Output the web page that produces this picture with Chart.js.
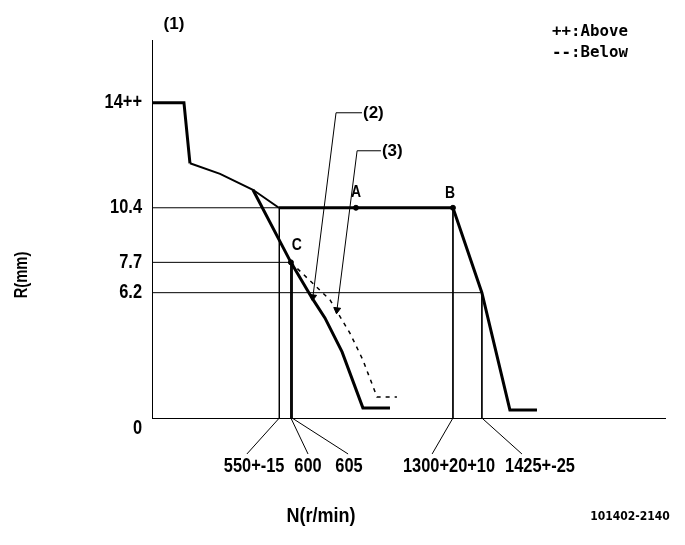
<!DOCTYPE html>
<html>
<head>
<meta charset="utf-8">
<script src="https://cdn.jsdelivr.net/npm/chart.js@4/dist/chart.umd.min.js"></script>
<style>
html, body { margin: 0; padding: 0; background: #fff; }
#wrap { width: 685px; height: 545px; }
</style>
</head>
<body>
<div id="wrap"><canvas id="myChart"></canvas></div>
<script>
// N (r/min), R (mm) pairs
const fullLoad = [[0, 15.6], [138, 15.6], [164, 12.6]];
const torqueCurve = [[164, 12.6], [294, 12.08], [436, 11.29], [548, 10.4]];
const governorLine = [[548, 10.4], [1300, 10.4], [1425, 6.2], [1546, 0.4], [1663, 0.4]];
const idleLine2 = [[436, 11.29], [600, 7.7], [691, 5.94], [747, 4.95], [821, 3.27], [911, 0.5], [1028, 0.5]];
const idleLine3 = [[600, 7.7], [769, 5.84], [855, 4.2], [911, 2.87], [972, 1.04], [1058, 1.04]];

// reference lines
const rLevels = [10.4, 7.7, 6.2];
const rLevelEnds = [548, 600, 1425];
const nMarks = [550, 600, 605, 1300, 1425];
const nMarkTops = [10.4, 7.7, 7.7, 10.4, 6.2];
const nLabels = ['550+-15', '600', '605', '1300+20+10', '1425+-25'];
const nLeaderEnds = [410, 674, 847, 1210, 1598];
const nLabelAt = [441, 674, 851, 1283, 1676];
const leaderDepth = -1.78;

// y ticks
const rTicks = [0, 6.2, 7.7, 10.4, 15.6];
const rTickLabels = ['0', '6.2', '7.7', '10.4', '14++'];

// marked points
const pointNames = ['A', 'B', 'C'];
const pointN = [881, 1300, 600];
const pointR = [10.4, 10.4, 7.7];

// callouts (2) and (3)
const note2 = [[907, 15.1], [795, 15.1], [695, 5.99]];
const note3 = [[989, 13.22], [886, 13.22], [799, 5.35]];

const xy = arr => arr.map(p => ({ x: p[0], y: p[1] }));

function line(data, width, extra) {
    return Object.assign({
        data: xy(data),
        showLine: true,
        borderColor: '#000',
        backgroundColor: '#000',
        borderWidth: width,
        pointRadius: 0,
        tension: 0,
        clip: false
    }, extra || {});
}

const datasets = [];
rLevels.forEach((r, i) => datasets.push(line([[0, r], [rLevelEnds[i], r]], 1)));
nMarks.forEach((n, i) => datasets.push(line([[n, nMarkTops[i]], [n, 0], [nLeaderEnds[i], leaderDepth]], 1)));
datasets.push(line(fullLoad, 3));
datasets.push(line(torqueCurve, 2));
datasets.push(line(governorLine, 3));
datasets.push(line(idleLine2, 3));
datasets.push(line(idleLine3, 1.5, { borderDash: [4, 5] }));
[note2, note3].forEach(n => datasets.push(line(n, 1, {
    pointRadius: [0, 0, 4],
    pointStyle: 'triangle',
    rotation: 187
})));
datasets.push({
    data: pointN.map((n, i) => ({ x: n, y: pointR[i] })),
    pointRadius: 2.5,
    pointBackgroundColor: '#000',
    pointBorderColor: '#000',
    showLine: false,
    clip: false
});

// squeezed text, the drawing uses a narrow plotter font
function narrow(ctx, text, x, y, align, sx) {
    ctx.save();
    ctx.translate(x, y);
    ctx.scale(sx || 0.82, 1);
    ctx.textAlign = align;
    ctx.fillText(text, 0, 0);
    ctx.restore();
}

const textPlugin = {
    id: 'texts',
    afterDatasetsDraw(chart) {
        const ctx = chart.ctx;
        const xs = chart.scales.x, ys = chart.scales.y;
        const area = chart.chartArea;
        ctx.save();
        ctx.fillStyle = '#000';
        ctx.textBaseline = 'middle';

        // y tick labels
        ctx.font = 'bold 20px "Liberation Sans"';
        rTicks.forEach((r, i) => {
            const y = ys.getPixelForValue(r) + (r === 0 ? 10 : 0);
            narrow(ctx, rTickLabels[i], area.left - 10, y, 'right');
        });

        // x labels under the leaders
        nLabels.forEach((t, i) => {
            narrow(ctx, t, xs.getPixelForValue(nLabelAt[i]), area.bottom + 48, 'center');
        });

        // axis titles
        narrow(ctx, 'N(r/min)', 321, 516, 'center', 0.9);
        ctx.save();
        ctx.translate(22, 275);
        ctx.rotate(-Math.PI / 2);
        ctx.font = 'bold 18px "Liberation Sans"';
        narrow(ctx, 'R(mm)', 0, 0, 'center');
        ctx.restore();

        // point letters
        ctx.font = 'bold 17px "Liberation Sans"';
        const offs = [[0, -15], [-3, -14], [6, -17]];
        pointNames.forEach((t, i) => {
            narrow(ctx, t, xs.getPixelForValue(pointN[i]) + offs[i][0], ys.getPixelForValue(pointR[i]) + offs[i][1], 'center');
        });

        // callout numbers
        narrow(ctx, '(1)', 174, 24, 'center', 1);
        narrow(ctx, '(2)', xs.getPixelForValue(note2[0][0]) + 1, ys.getPixelForValue(note2[0][1]) + 1, 'left', 1);
        narrow(ctx, '(3)', xs.getPixelForValue(note3[0][0]) + 1, ys.getPixelForValue(note3[0][1]) + 1, 'left', 1);

        // legend
        ctx.font = 'bold 15px "DejaVu Sans Mono"';
        narrow(ctx, '++:Above', 552, 32, 'left', 1.05);
        narrow(ctx, '--:Below', 552, 53, 'left', 1.05);

        // drawing number
        ctx.font = 'bold 12px "DejaVu Sans Condensed"';
        narrow(ctx, '101402-2140', 630, 517, 'center', 1);
        ctx.restore();
    }
};

const ctx = document.getElementById('myChart').getContext('2d');
new Chart(ctx, {
    type: 'scatter',
    data: { datasets: datasets },
    options: {
        responsive: true,
        maintainAspectRatio: false,
        animation: false,
        events: [],
        layout: { padding: { left: 152, top: 40, right: 20, bottom: 127 } },
        plugins: { legend: { display: false }, tooltip: { enabled: false } },
        scales: {
            x: {
                type: 'linear', min: 0, max: 2216,
                grid: { display: false, drawTicks: false },
                ticks: { display: false },
                border: { display: true, color: '#000', width: 1 }
            },
            y: {
                type: 'linear', min: 0, max: 18.7,
                grid: { display: false, drawTicks: false },
                ticks: { display: false },
                border: { display: true, color: '#000', width: 1 }
            }
        }
    },
    plugins: [textPlugin]
});
</script>
</body>
</html>
